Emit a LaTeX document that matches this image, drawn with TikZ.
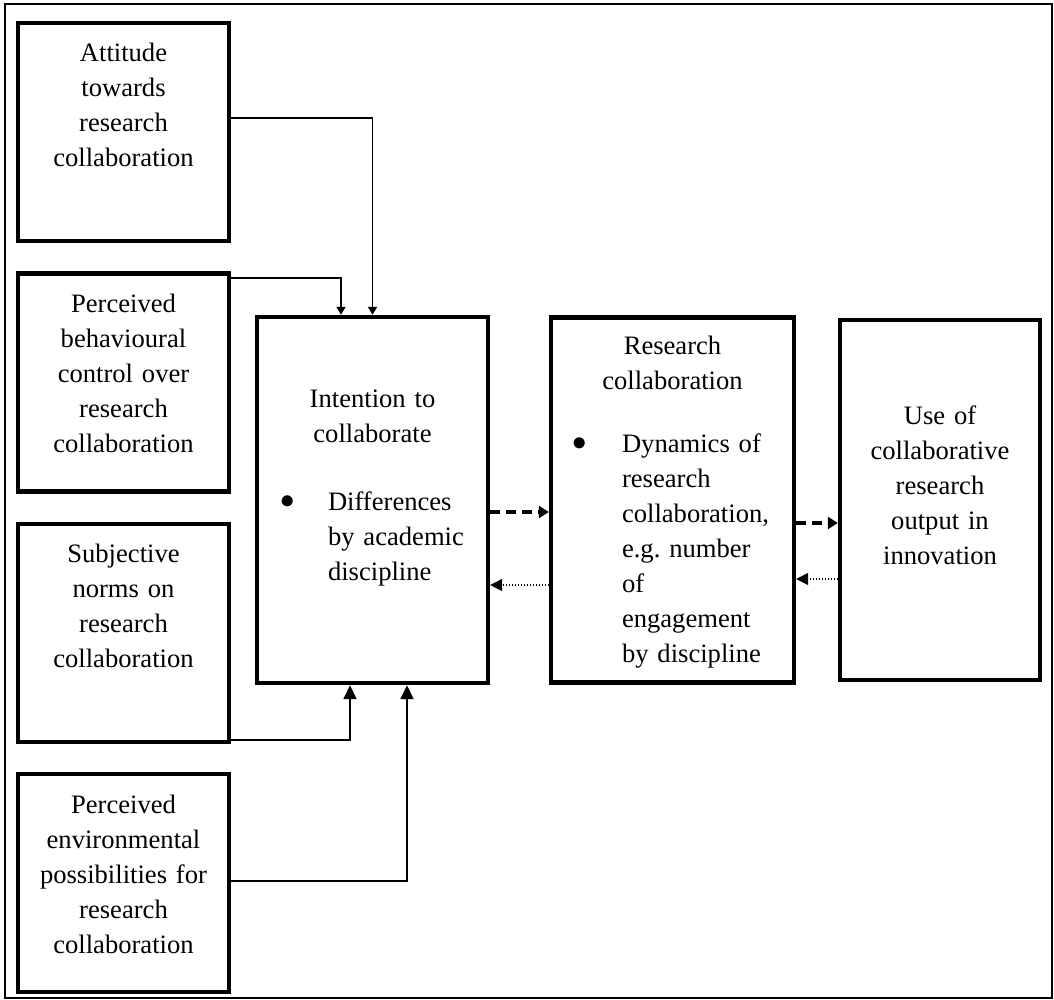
\documentclass[tikz,border=0pt]{standalone}
\usepackage{fontspec}
\setmainfont{Liberation Serif}
\usepackage{tikz}
\usetikzlibrary{positioning,arrows.meta}
\frenchspacing

\newcommand{\dotitem}[3]{\makebox[#1][l]{\hspace{6.5pt}\raisebox{0.8pt}{$\bullet$}}\parbox[t]{#2}{\raggedright #3}}

\begin{document}
\begin{tikzpicture}[
x=0.5pt,y=-0.5pt,
node distance=14pt,
box/.style={draw,line width=2.2pt,align=center,inner ysep=0pt,font=\fontsize{13.3}{17.5}\selectfont},
factor/.style={box,minimum width=105.5pt,minimum height=109pt,text width=97pt,text height=19.5pt,text depth=89.5pt},
link/.style={line width=0.9pt},
smalltip/.style={-{Triangle[length=4pt,width=4.5pt]}},
bigtip/.style={-{Triangle[length=7pt,width=6.5pt]}},
forward/.style={-{Triangle[length=5pt,width=6pt]},line width=1.6pt,dash pattern=on 5pt off 3pt},
backward/.style={-{Triangle[length=6pt,width=6pt]},line width=0.7pt,dash pattern=on 0.6pt off 0.9pt}
]
\useasboundingbox (0,0) rectangle (1054,1000);
\draw[line width=0.7pt] (5,4) rectangle (1052,998);

% left column
\node[factor] (att) at (123.5,132) {Attitude\\towards\\research\\collaboration};
\node[factor, below=of att] (pbc) {Perceived\\behavioural\\control over\\research\\collaboration};
\node[factor, below=of pbc] (norms) {Subjective\\norms on\\research\\collaboration};
\node[factor, below=of norms] (env) {Perceived\\environmental\\possibilities for\\research\\collaboration};

% main chain
\node[box,minimum width=115.5pt,minimum height=183pt,text width=105pt,text height=45pt,text depth=138pt] (intent) at (372.5,500)
  {Intention to\\collaborate\\[16.5pt]\dotitem{30.25pt}{74.75pt}{Differences\\by academic\\discipline}};
\node[box,minimum width=121.5pt,minimum height=182.5pt,text width=113.5pt,text height=18.5pt,text depth=164pt,right=29.3pt of intent] (collab)
  {Research\\collaboration\\[14pt]\dotitem{31.5pt}{82pt}{Dynamics of\\research\\collaboration,\\e.g. number\\of\\engagement\\by discipline}};
\node[box,minimum width=100pt,minimum height=180pt,text width=90pt,text height=52pt,text depth=128pt,right=20.8pt of collab] (use)
  {Use of\\collaborative\\research\\output in\\innovation};

% connectors
\draw[link,smalltip] ([yshift=7pt]att.east) -| (intent.north);
\draw[link,smalltip] ([yshift=-3.5pt]pbc.north east) -| ([xshift=-15.75pt]intent.north);
\draw[link,bigtip] ([yshift=2pt]norms.south east) -| ([xshift=-11.25pt]intent.south);
\draw[link,bigtip] ([yshift=1pt]env.east) -| ([xshift=17.25pt]intent.south);

\draw[forward] ([yshift=-6pt]intent.east) -- ([yshift=-6pt]collab.west);
\draw[backward] ([yshift=-42.5pt]collab.west) -- ([yshift=-42.5pt]intent.east);
\draw[forward] ([yshift=-11.5pt]collab.east) -- ([yshift=-11.5pt]use.west);
\draw[backward] ([yshift=-39.5pt]use.west) -- ([yshift=-39.5pt]collab.east);
\end{tikzpicture}
\end{document}
